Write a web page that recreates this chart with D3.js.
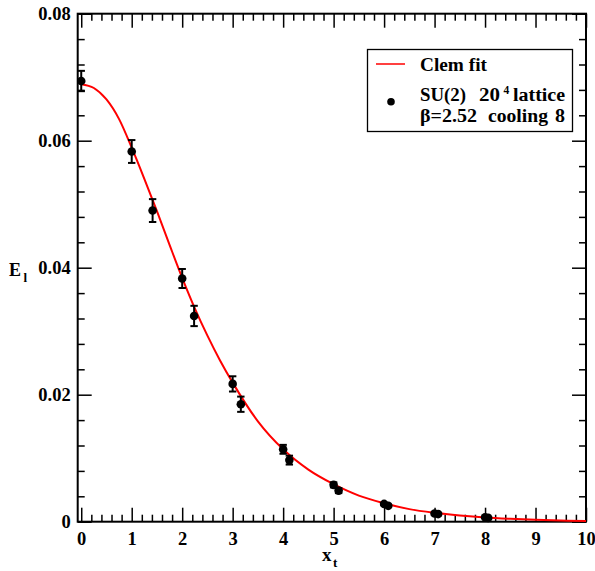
<!DOCTYPE html>
<html>
<head>
<meta charset="utf-8">
<script src="https://cdn.jsdelivr.net/npm/d3@7"></script>
<style>
  body { margin: 0; background: #fff; }
  svg { display: block; }
  text { font-family: "Liberation Serif", "Times New Roman", serif; font-weight: bold; }
</style>
</head>
<body>
<svg id="chart" width="595" height="571"></svg>
<script>
// ---- data ----
const pointX   = [0, 1.0, 1.414, 2.0, 2.236, 3.0, 3.162, 4.0, 4.123, 5.0, 5.099, 6.0, 6.083, 7.0, 7.071, 8.0, 8.062];
const pointY   = [0.0694, 0.0583, 0.0490, 0.0383, 0.0324, 0.0217, 0.0185, 0.0114, 0.0097, 0.0058, 0.0049, 0.0028, 0.0025, 0.0013, 0.0012, 0.0007, 0.0006];
const pointErr = [0.0016, 0.0018, 0.0018, 0.0015, 0.0016, 0.0012, 0.0012, 0.0007, 0.0007, 0.0004, 0.0004, 0.0002, 0.0002, 0.0002, 0.0002, 0.0001, 0.0001];

const fitX = [0, 0.25, 0.5, 0.75, 1.0, 1.25, 1.5, 1.75, 2.0, 2.25, 2.5, 2.75, 3.0, 3.5, 4.0, 4.5, 5.0, 5.5, 6.0, 6.5, 7.0, 7.5, 8.0, 8.5, 9.0, 9.5, 10];
const fitY = [0.0689, 0.0683, 0.0665, 0.0634, 0.0589, 0.0540, 0.0489, 0.0436, 0.0384, 0.0336, 0.0293, 0.0254, 0.0219, 0.0158, 0.0114, 0.0082, 0.0059, 0.0041, 0.0029, 0.00198, 0.00140, 0.00098, 0.00066, 0.00045, 0.00029, 0.00018, 0.00010];

const xTickValues = [0, 1, 2, 3, 4, 5, 6, 7, 8, 9, 10];
const xTickLabels = ["0", "1", "2", "3", "4", "5", "6", "7", "8", "9", "10"];
const yTickValues = [0, 0.02, 0.04, 0.06, 0.08];
const yTickLabels = ["0", "0.02", "0.04", "0.06", "0.08"];

const legendFit = "Clem fit";
const legendLine1 = ["SU(2)", "20", "4", "lattice"];
const legendLine2 = ["β=2.52", "cooling", "8"];

// ---- chart ----
const svg = d3.select("#chart");
const x = d3.scaleLinear().domain([-0.07, 10]).range([77.7, 586]);
const y = d3.scaleLinear().domain([0, 0.08]).range([521.7, 13.7]);

const X0 = x.range()[0], X1 = x.range()[1];
const Y0 = y.range()[0], Y1 = y.range()[1];

const xMinor = d3.range(0, 10.0001, 0.2).filter(v => Math.abs(v - Math.round(v)) > 1e-6);
const yMinor = d3.range(0, 0.08001, 0.004).filter(v => Math.abs(v / 0.02 - Math.round(v / 0.02)) > 1e-6);

function styleAxis(g) {
  g.select(".domain").remove();
  g.selectAll(".tick line").attr("stroke", "#000").attr("stroke-width", 1.5);
}
function styleLabels(g) {
  g.selectAll("text").attr("font-size", 18.5).attr("fill", "#000")
   .attr("font-family", "Liberation Serif, serif").attr("font-weight", "bold");
}

// bottom
svg.append("g").attr("transform", `translate(0,${Y0})`)
  .call(d3.axisBottom(x).tickValues(xTickValues).tickSize(-14).tickPadding(10)
        .tickFormat((d, i) => xTickLabels[i]))
  .call(styleAxis).call(styleLabels);
svg.append("g").attr("transform", `translate(0,${Y0})`)
  .call(d3.axisBottom(x).tickValues(xMinor).tickSize(-7).tickFormat(""))
  .call(styleAxis);
// top
svg.append("g").attr("transform", `translate(0,${Y1})`)
  .call(d3.axisTop(x).tickValues(xTickValues).tickSize(-14).tickFormat(""))
  .call(styleAxis);
svg.append("g").attr("transform", `translate(0,${Y1})`)
  .call(d3.axisTop(x).tickValues(xMinor).tickSize(-7).tickFormat(""))
  .call(styleAxis);
// left
svg.append("g").attr("transform", `translate(${X0},0)`)
  .call(d3.axisLeft(y).tickValues(yTickValues).tickSize(-14).tickPadding(7)
        .tickFormat((d, i) => yTickLabels[i]))
  .call(styleAxis).call(styleLabels);
svg.append("g").attr("transform", `translate(${X0},0)`)
  .call(d3.axisLeft(y).tickValues(yMinor).tickSize(-7).tickFormat(""))
  .call(styleAxis);
// right
svg.append("g").attr("transform", `translate(${X1},0)`)
  .call(d3.axisRight(y).tickValues(yTickValues).tickSize(-14).tickFormat(""))
  .call(styleAxis);
svg.append("g").attr("transform", `translate(${X1},0)`)
  .call(d3.axisRight(y).tickValues(yMinor).tickSize(-7).tickFormat(""))
  .call(styleAxis);

// frame
svg.append("rect")
  .attr("x", X0).attr("y", Y1).attr("width", X1 - X0).attr("height", Y0 - Y1)
  .attr("fill", "none").attr("stroke", "#000").attr("stroke-width", 2);

// fit curve
const fitData = fitX.map((v, i) => [v, fitY[i]]);
svg.append("path")
  .datum(fitData)
  .attr("fill", "none").attr("stroke", "#ff0000").attr("stroke-width", 2)
  .attr("d", d3.line().x(d => x(d[0])).y(d => y(d[1])).curve(d3.curveMonotoneX));

// error bars + points
const pts = pointX.map((v, i) => ({ x: v, y: pointY[i], e: pointErr[i] }));
const eg = svg.append("g").attr("stroke", "#000").attr("stroke-width", 2);
pts.forEach(p => {
  const cx = x(p.x), yt = y(p.y + p.e), yb = y(p.y - p.e);
  eg.append("line").attr("x1", cx).attr("x2", cx).attr("y1", yt).attr("y2", yb);
  eg.append("line").attr("x1", cx - 3.7).attr("x2", cx + 3.7).attr("y1", yt).attr("y2", yt);
  eg.append("line").attr("x1", cx - 3.7).attr("x2", cx + 3.7).attr("y1", yb).attr("y2", yb);
});
svg.append("g").selectAll("circle").data(pts).join("circle")
  .attr("cx", d => x(d.x)).attr("cy", d => y(d.y)).attr("r", 4.3).attr("fill", "#000");

// axis titles
svg.append("text").attr("x", 9).attr("y", 275.5).attr("font-size", 18).attr("fill", "#000").text("E");
svg.append("text").attr("x", 23.5).attr("y", 281.5).attr("font-size", 13).attr("fill", "#000").text("l");
svg.append("text").attr("x", 322).attr("y", 561).attr("font-size", 19).attr("fill", "#000").text("x");
svg.append("text").attr("x", 333).attr("y", 567).attr("font-size", 13).attr("fill", "#000").text("t");

// legend
const lg = svg.append("g");
lg.append("rect").attr("x", 367.5).attr("y", 49.5).attr("width", 205).attr("height", 82)
  .attr("fill", "#fff").attr("stroke", "#000").attr("stroke-width", 1.3);
lg.append("line").attr("x1", 376).attr("x2", 405).attr("y1", 64).attr("y2", 64)
  .attr("stroke", "#ff0000").attr("stroke-width", 1.5);
lg.append("text").attr("x", 420).attr("y", 70.5).attr("font-size", 18.5).attr("fill", "#000")
  .attr("textLength", 67).attr("lengthAdjust", "spacingAndGlyphs").text(legendFit);
lg.append("circle").attr("cx", 391).attr("cy", 101.7).attr("r", 3.8).attr("fill", "#000");

const l1x = [420, 479, 503.5, 513], l1y = [101, 101, 93.5, 101], l1s = [18.5, 18.5, 11.5, 18.5];
const l1w = [46, 21, null, 52];
legendLine1.forEach((s, i) => {
  const t = lg.append("text").attr("x", l1x[i]).attr("y", l1y[i]).attr("font-size", l1s[i]).attr("fill", "#000").text(s);
  if (l1w[i]) t.attr("textLength", l1w[i]).attr("lengthAdjust", "spacingAndGlyphs");
});
const l2x = [420, 488, 555], l2w = [57, 60, 10];
legendLine2.forEach((s, i) => {
  lg.append("text").attr("x", l2x[i]).attr("y", 121.5).attr("font-size", 18.5).attr("fill", "#000")
    .attr("textLength", l2w[i]).attr("lengthAdjust", "spacingAndGlyphs").text(s);
});
</script>
</body>
</html>
